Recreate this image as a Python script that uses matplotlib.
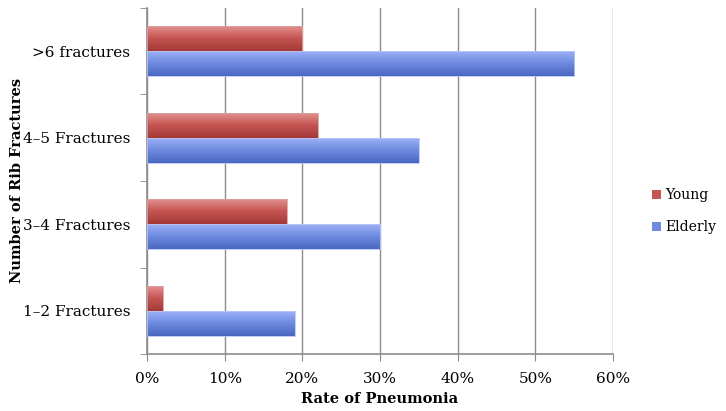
import matplotlib
matplotlib.use("Agg")
import matplotlib.pyplot as plt
import numpy as np
from matplotlib.colors import LinearSegmentedColormap
from matplotlib.patches import Patch

categories = ["1\u20132 Fractures", "3\u20134 Fractures", "4\u20135 Fractures", ">6 fractures"]
young = [2, 18, 22, 20]
elderly = [19, 30, 35, 55]
xticks = [0, 10, 20, 30, 40, 50, 60]

plt.rcParams['font.family'] = ['DejaVu Serif']

fig = plt.figure(figsize=(7.26, 4.11), dpi=100)
ax = fig.add_axes([0.2025, 0.138, 0.642, 0.843])

y = np.arange(len(categories))
h = 0.29
red_cmap = LinearSegmentedColormap.from_list("r", ["#a33a38", "#c65552", "#e39593"])
blue_cmap = LinearSegmentedColormap.from_list("b", ["#4a68c0", "#6f8be0", "#9fb3f8"])

def grad_bars(ys, vals, cmap, edge):
    bars = ax.barh(ys, vals, height=h, color="none", edgecolor="none", zorder=3)
    grad = np.linspace(0, 1, 64).reshape(-1, 1)
    for b in bars:
        x0, y0 = b.get_x(), b.get_y()
        w, hh = b.get_width(), b.get_height()
        im = ax.imshow(grad, cmap=cmap, aspect="auto", origin="lower",
                       extent=[x0, x0 + w, y0, y0 + hh], zorder=3)
        im.set_clip_path(b)
        ax.barh(y0 + hh / 2, w, left=x0, height=hh, color="none",
                edgecolor=edge, linewidth=0.6, zorder=4)
    return bars

grad_bars(y + h / 2, young, red_cmap, "#d8a0a0")
grad_bars(y - h / 2, elderly, blue_cmap, "#b8c6f8")

ax.set_xlim(0, 60)
ax.set_ylim(-0.5, len(categories) - 0.5)
ax.set_xticks(xticks)
ax.set_xticklabels([f"{v}%" for v in xticks], fontsize=11)
ax.set_yticks(y)
ax.set_yticklabels(categories, fontsize=11)
ax.set_yticks(np.arange(-0.5, len(categories), 1), minor=True)
ax.tick_params(axis="y", which="major", length=0, pad=12)
ax.tick_params(axis="y", which="minor", length=5, color="#888888", direction="out")
ax.tick_params(axis="x", length=5, color="#888888", direction="out", pad=8)

ax.grid(axis="x", color="#8c8c8c", linewidth=1.0, zorder=0)
ax.set_axisbelow(True)
for s in ["top", "right"]:
    ax.spines[s].set_visible(False)
for s in ["left", "bottom"]:
    ax.spines[s].set_color("#8c8c8c")
    ax.spines[s].set_linewidth(1.2)

fig.text(0.5235, 0.012, "Rate of Pneumonia", fontsize=10.5, fontweight="bold",
         ha="center", va="bottom")
fig.text(0.024, 0.56, "Number of Rib Fractures", fontsize=10.5, fontweight="bold",
         ha="center", va="center", rotation=90)

handles = [Patch(facecolor="#c65552", edgecolor="none", label="Young"),
           Patch(facecolor="#6f8be0", edgecolor="none", label="Elderly")]
fig.legend(handles=handles, loc="center left", bbox_to_anchor=(0.888, 0.486),
           frameon=False, fontsize=10, handlelength=0.7, handleheight=0.7,
           handletextpad=0.3, labelspacing=1.3, borderpad=0)

fig.savefig("out.png", dpi=100)
